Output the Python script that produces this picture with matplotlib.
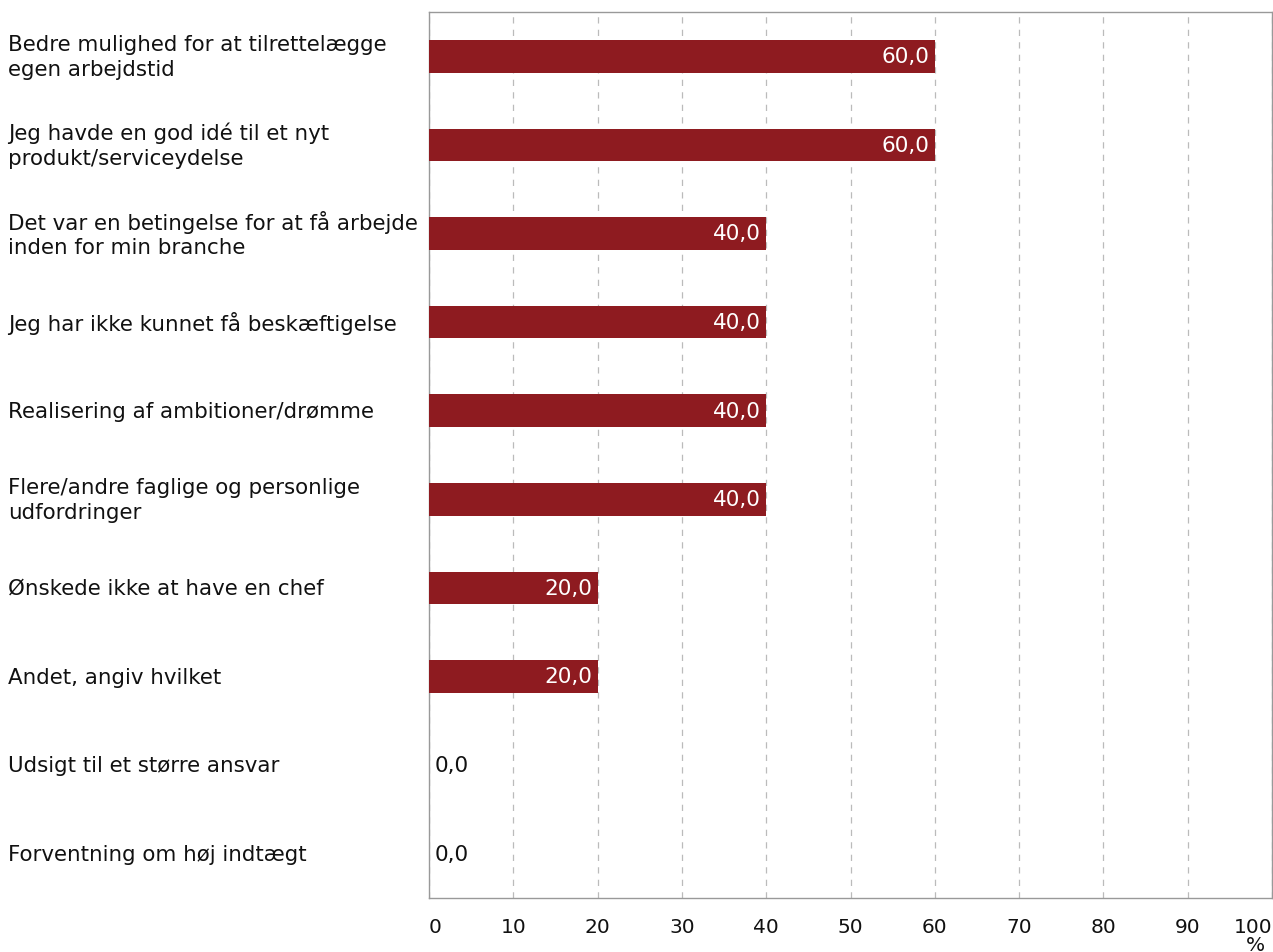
import matplotlib
matplotlib.use("Agg")
import matplotlib.pyplot as plt
import numpy as np

plt.rcParams["font.family"] = ["DejaVu Sans"]

categories = [
    "Bedre mulighed for at tilrettelægge\negen arbejdstid",
    "Jeg havde en god idé til et nyt\nprodukt/serviceydelse",
    "Det var en betingelse for at få arbejde\ninden for min branche",
    "Jeg har ikke kunnet få beskæftigelse",
    "Realisering af ambitioner/drømme",
    "Flere/andre faglige og personlige\nudfordringer",
    "Ønskede ikke at have en chef",
    "Andet, angiv hvilket",
    "Udsigt til et større ansvar",
    "Forventning om høj indtægt",
]
values = [60.0, 60.0, 40.0, 40.0, 40.0, 40.0, 20.0, 20.0, 0.0, 0.0]
xticks = [0, 10, 20, 30, 40, 50, 60, 70, 80, 90, 100]

W, H = 1273, 953
fig = plt.figure(figsize=(W / 100, H / 100), dpi=100)
ax = fig.add_axes([429 / W, 1 - 899 / H, 843 / W, 886 / H])

y = np.arange(len(categories))
bar_color = "#8E1B20"
ax.barh(y, values, height=0.37, color=bar_color, zorder=3)
ax.set_ylim(len(categories) - 0.5, -0.5)
ax.set_xlim(0, 100)

ax.set_xticks(xticks)
ax.set_xticklabels([str(t) for t in xticks], fontsize=14.5)
for lbl, t in zip(ax.get_xticklabels(), xticks):
    if t == 0:
        lbl.set_ha("left")
    elif t == 100:
        lbl.set_ha("right")
ax.tick_params(axis="x", length=0, pad=14, colors="#111111")
ax.set_yticks([])

ax.grid(axis="x", color="#BBBBBB", linestyle=(0, (5, 5)), linewidth=0.9, zorder=0)
for s in ax.spines.values():
    s.set_color("#999999")
    s.set_linewidth(1.0)

for yi, v in zip(y, values):
    if v > 0:
        ax.annotate(f"{v:.1f}".replace(".", ","), (v, yi), xytext=(-4, 0),
                    textcoords="offset points", ha="right", va="center",
                    color="white", fontsize=15.5, zorder=4)
    else:
        ax.annotate(f"{v:.1f}".replace(".", ","), (0, yi), xytext=(4, 0),
                    textcoords="offset points", ha="left", va="center",
                    color="#111111", fontsize=15.5, zorder=4)

for yi, c in zip(y, categories):
    yd = ax.transData.transform((0, yi))[1]
    yf = fig.transFigure.inverted().transform((0, yd))[1]
    fig.text(8 / W, yf, c, ha="left", va="center", fontsize=15.4,
             color="#111111", linespacing=1.3)

fig.text(1255 / W, 1 - 946 / H, "%", ha="center", va="center", fontsize=14.5, color="#111111")

fig.savefig("out.png", dpi=100)
